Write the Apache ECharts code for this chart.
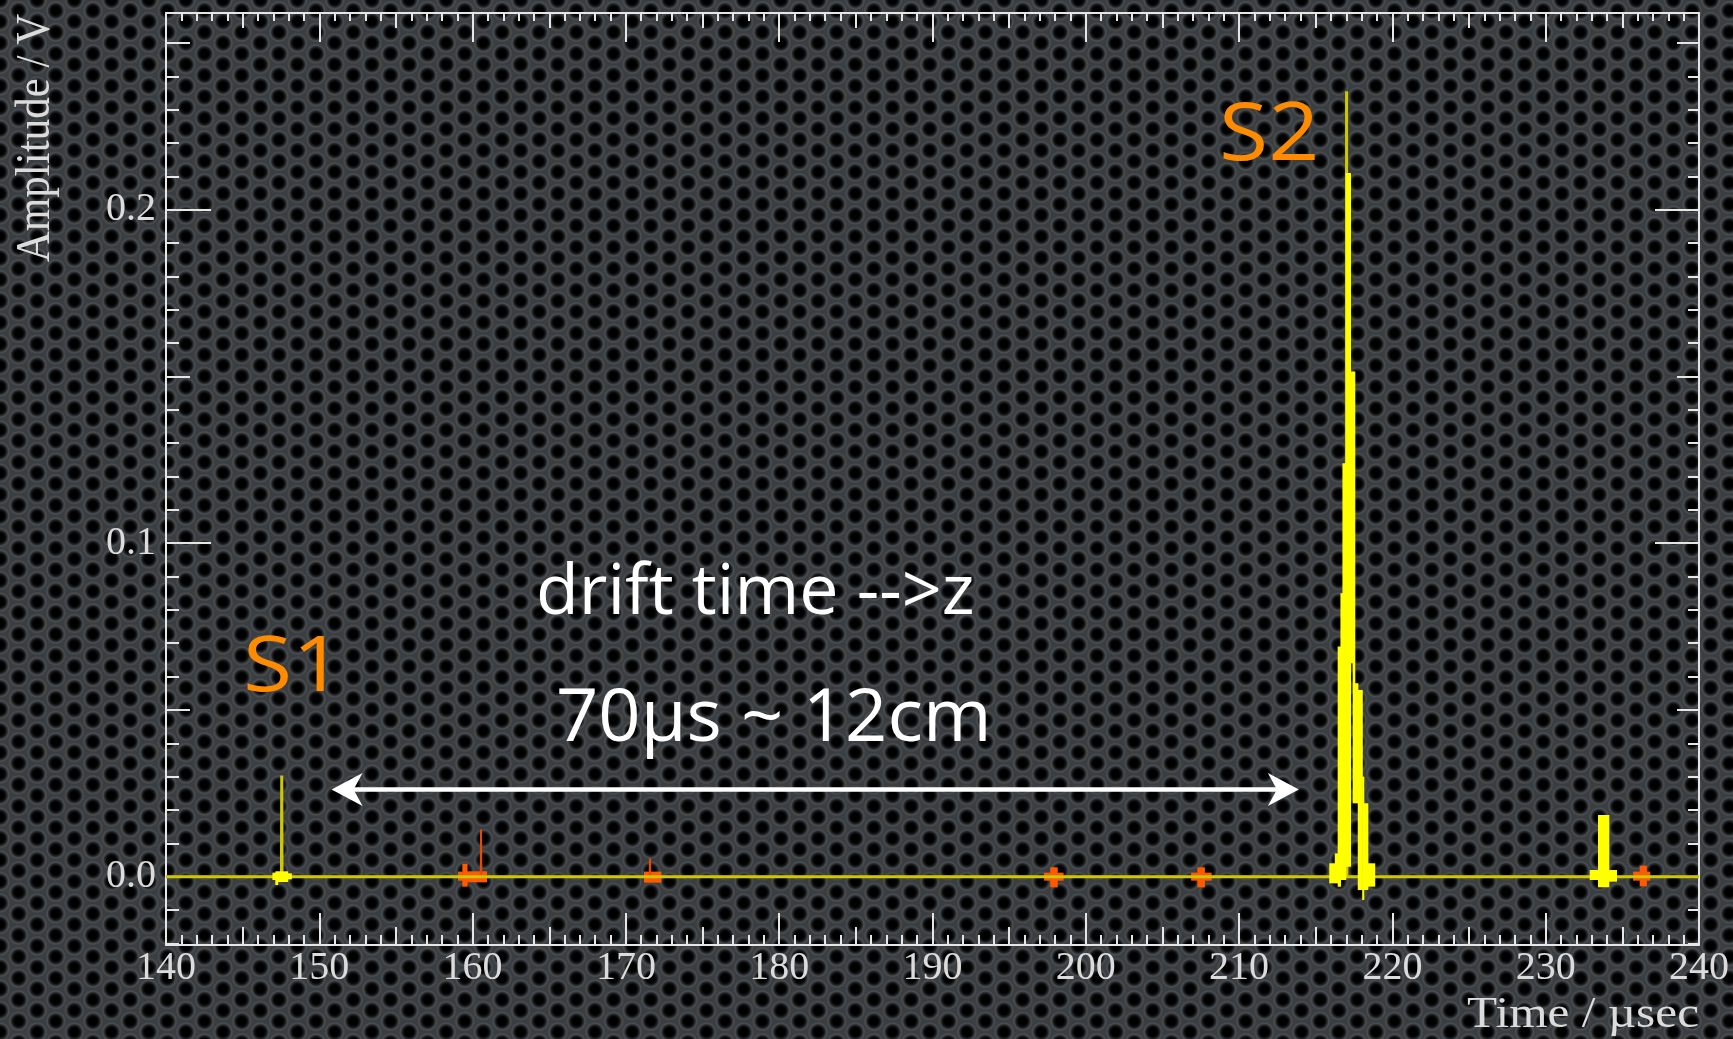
<!DOCTYPE html>
<html>
<head>
<meta charset="utf-8">
<script src="https://cdn.jsdelivr.net/npm/echarts@6/dist/echarts.min.js"></script>
<style>
html,body{margin:0;padding:0;}
body{
  width:1733px;height:1039px;overflow:hidden;
  background-color:#3b3e41;
  background-image:
    radial-gradient(circle, #000 0px, #000 4px, #0c0d0e 5.5px, #25282b 7px, rgba(78,82,86,0.9) 8.6px, rgba(59,62,65,0) 10.2px),
    radial-gradient(circle, #000 0px, #000 4px, #0c0d0e 5.5px, #25282b 7px, rgba(78,82,86,0.9) 8.6px, rgba(59,62,65,0) 10.2px);
  background-size:37.2px 21.5px;
  background-position:0 0, 18.6px 10.75px;
}
#chart{width:1733px;height:1039px;}
</style>
</head>
<body>
<div id="chart"></div>
<script>
// ---------------- data ----------------
const xRange = [140, 240];
const yRange = [-0.0205, 0.259];

const xMajorTicks  = [140, 150, 160, 170, 180, 190, 200, 210, 220, 230, 240];
const xMediumTicks = [145, 155, 165, 175, 185, 195, 205, 215, 225, 235];
const yMajorTicks  = [0.0, 0.1, 0.2];
const yMediumTicks = [0.05, 0.15, 0.25];
const xMinorTicks = [];
for (let v = 141; v < 240; v++) if (v % 5 !== 0) xMinorTicks.push(v);
const yMinorTicks = [];
for (let k = -2; k <= 25; k++) if (k % 5 !== 0) yMinorTicks.push(k / 100);

// yellow channel, thin trace: [time µs, amplitude V]
const yellowTrace = [
  [140, 0], [147.53, 0], [147.55, 0.0303], [147.57, 0],
  [216.99, 0], [217.01, 0.2355], [217.03, 0], [240, 0]
];
// yellow channel, dense-oscillation envelopes: [tStart, tEnd, low, high]
const yellowS1Envelope = [
  [146.96, 147.15, -0.0010, 0.0012],
  [147.15, 147.30, -0.0025, 0.0016],
  [147.30, 147.95, -0.0016, 0.0016],
  [147.95, 148.19, -0.0008, 0.0010]
];
const yellowS2Envelope = [
  [215.90, 216.26, -0.0020, 0.0040],
  [216.26, 216.45, -0.0020, 0.0070],
  [216.45, 216.63, -0.0030, 0.0690],
  [216.63, 216.76, -0.0010, 0.0850],
  [216.76, 216.97, -0.0010, 0.1240],
  [216.97, 217.28,  0.0030, 0.2110],
  [217.28, 217.43,  0.0640, 0.1515],
  [217.43, 217.56,  0.0220, 0.1515],
  [217.56, 217.76,  0.0220, 0.0580],
  [217.76, 218.05, -0.0040, 0.0560],
  [218.05, 218.12, -0.0070, 0.0300],
  [218.12, 218.41, -0.0040, 0.0220],
  [218.41, 218.86, -0.0030, 0.0040]
];
const yellowPulse233Envelope = [
  [232.89, 233.43, -0.0010, 0.0020],
  [233.43, 234.13, -0.0032, 0.0185],
  [234.13, 234.63, -0.0015, 0.0020]
];
// orange channel
const orangeTrace = [
  [140, 0], [160.53, 0], [160.55, 0.0141], [160.57, 0],
  [171.55, 0], [171.57, 0.0054], [171.59, 0], [240, 0]
];
const orangeEnvelope = [
  [159.07, 159.35, -0.0012, 0.0015], [159.35, 159.65, -0.0030, 0.0039], [159.65, 160.92, -0.0017, 0.0016],
  [171.20, 172.30, -0.0018, 0.0015],
  [197.30, 197.70, -0.0012, 0.0012], [197.70, 198.15, -0.0032, 0.0028], [198.15, 198.53, -0.0012, 0.0012],
  [206.89, 207.30, -0.0012, 0.0012], [207.30, 207.75, -0.0032, 0.0028], [207.75, 208.19, -0.0012, 0.0012],
  [235.72, 236.15, -0.0012, 0.0015], [236.15, 236.58, -0.0029, 0.0033], [236.58, 236.80, -0.0012, 0.0015]
];
// drift-time arrow: [from time µs, to time µs, level V]
const driftArrow = [[150.8, 213.9, 0.0261]];

// ---------------- chart ----------------
const axisColor = '#e6e6e6';
const labelColor = '#dcdcdc';

function mkX(position, ticks, len, withLine, labels) {
  return {
    type: 'value', position, min: xRange[0], max: xRange[1],
    splitLine: {show: false}, minorTick: {show: false},
    axisLine: {show: withLine, onZero: false, lineStyle: {color: axisColor, width: 2}},
    axisTick: {show: true, inside: true, length: len, customValues: ticks, lineStyle: {color: axisColor, width: 2}},
    axisLabel: labels ? {
      show: true, customValues: labels, margin: 3, color: labelColor,
      fontFamily: 'Liberation Serif', fontSize: 40, formatter: v => String(v)
    } : {show: false}
  };
}
function mkY(position, ticks, len, withLine, labels) {
  return {
    type: 'value', position, min: yRange[0], max: yRange[1],
    splitLine: {show: false}, minorTick: {show: false},
    axisLine: {show: withLine, onZero: false, lineStyle: {color: axisColor, width: 2}},
    axisTick: {show: true, inside: true, length: len, customValues: ticks, lineStyle: {color: axisColor, width: 2}},
    axisLabel: labels ? {
      show: true, customValues: labels, margin: 10, color: labelColor,
      fontFamily: 'Liberation Serif', fontSize: 40, formatter: v => v.toFixed(1)
    } : {show: false}
  };
}

function bandSeries(name, bins, color, z) {
  return {
    type: 'custom', name, data: bins, z, silent: true,
    encode: {x: [0, 1], y: [2, 3]},
    renderItem(params, api) {
      const p0 = api.coord([api.value(0), api.value(3)]);
      const p1 = api.coord([api.value(1), api.value(2)]);
      const w = Math.max(p1[0] - p0[0], 1.5) + 0.6;
      return {
        type: 'rect',
        shape: {x: p0[0] - 0.3, y: p0[1], width: w, height: Math.max(p1[1] - p0[1], 1.5)},
        style: {fill: color}
      };
    }
  };
}

const chart = echarts.init(document.getElementById('chart'), null, {renderer: 'canvas'});
chart.setOption({
  backgroundColor: 'transparent',
  animation: false,
  grid: {left: 166, right: 34, top: 13, bottom: 94, containLabel: false},
  xAxis: [
    mkX('bottom', xMinorTicks, 10, true, xMajorTicks),
    mkX('bottom', xMediumTicks, 18, false),
    mkX('bottom', xMajorTicks, 32, false),
    mkX('top', xMinorTicks, 8, true),
    mkX('top', xMediumTicks, 15, false),
    mkX('top', xMajorTicks, 29, false)
  ],
  yAxis: [
    mkY('left', yMinorTicks, 13, true, yMajorTicks),
    mkY('left', yMediumTicks, 24, false),
    mkY('left', yMajorTicks, 45, false),
    mkY('right', yMinorTicks, 11, true),
    mkY('right', yMediumTicks, 22, false),
    mkY('right', yMajorTicks, 44, false)
  ],
  series: [
    bandSeries('orange pulses', orangeEnvelope, '#ff5a00', 2),
    {
      type: 'line', name: 'orange trace', data: orangeTrace, z: 3,
      showSymbol: false, symbol: 'none', silent: true,
      lineStyle: {color: '#e84a00', width: 2}
    },
    {
      type: 'line', name: 'yellow trace', data: yellowTrace, z: 4,
      showSymbol: false, symbol: 'none', silent: true,
      lineStyle: {color: '#cdc800', width: 3}
    },
    bandSeries('S1', yellowS1Envelope, '#ffff00', 5),
    bandSeries('S2', yellowS2Envelope, '#ffff00', 5),
    bandSeries('pulse 233', yellowPulse233Envelope, '#ffff00', 5),
    {
      type: 'custom', name: 'drift arrow', data: driftArrow, z: 6, silent: true,
      encode: {x: [0, 1], y: 2},
      renderItem(params, api) {
        const a = api.coord([api.value(0), api.value(2)]);
        const b = api.coord([api.value(1), api.value(2)]);
        const y = a[1], L = 31, H = 16.5, N = 22;
        return {
          type: 'group',
          children: [
            {type: 'line', shape: {x1: a[0] + N - 2, y1: y, x2: b[0] - N + 2, y2: y},
              style: {stroke: '#ffffff', lineWidth: 4.5}},
            {type: 'polygon', shape: {points: [[a[0], y], [a[0] + L, y - H], [a[0] + N, y], [a[0] + L, y + H]]},
              style: {fill: '#ffffff'}},
            {type: 'polygon', shape: {points: [[b[0], y], [b[0] - L, y - H], [b[0] - N, y], [b[0] - L, y + H]]},
              style: {fill: '#ffffff'}}
          ]
        };
      }
    }
  ],
  graphic: [
    {type: 'text', x: 243, y: 669, z: 100, silent: true, scaleX: 1.18,
      style: {text: 'S1', fill: '#ff8c00', font: '76px "Open Sans"', textAlign: 'left', textVerticalAlign: 'middle', verticalAlign: 'middle'}},
    {type: 'text', x: 1219, y: 137, z: 100, silent: true, scaleX: 1.12,
      style: {text: 'S2', fill: '#ff8c00', font: '80px "Open Sans"', textAlign: 'left', textVerticalAlign: 'middle', verticalAlign: 'middle'}},
    {type: 'text', x: 536, y: 594, z: 100, silent: true,
      style: {text: 'drift time -->z', fill: '#ffffff', font: '70px "Open Sans"', textAlign: 'left', textVerticalAlign: 'middle', verticalAlign: 'middle'}},
    {type: 'text', x: 556, y: 720, z: 100, silent: true, scaleX: 1.015,
      style: {text: '70µs ~ 12cm', fill: '#ffffff', font: '73px "Open Sans"', textAlign: 'left', textVerticalAlign: 'middle', verticalAlign: 'middle'}},
    {type: 'text', x: 1699, y: 1015, z: 100, silent: true, scaleX: 1.12,
      style: {text: 'Time / µsec', fill: labelColor, font: '44px "Liberation Serif"', textAlign: 'right', textVerticalAlign: 'middle', verticalAlign: 'middle'}},
    {type: 'text', x: 36, y: 138, z: 100, silent: true, rotation: Math.PI / 2, scaleY: 1.15,
      style: {text: 'Amplitude / V', fill: labelColor, font: '43px "Liberation Serif"', textAlign: 'center', textVerticalAlign: 'middle', verticalAlign: 'middle'}}
  ]
});
</script>
</body>
</html>
